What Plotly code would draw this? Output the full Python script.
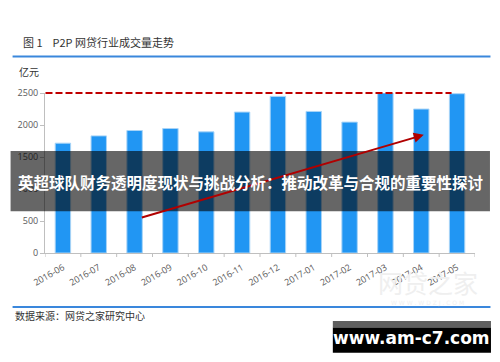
import plotly.graph_objects as go

categories = ["2016-06", "2016-07", "2016-08", "2016-09", "2016-10", "2016-11",
              "2016-12", "2017-01", "2017-02", "2017-03", "2017-04", "2017-05"]
volumes = [1716, 1830, 1914, 1945, 1893, 2202, 2447, 2212, 2045, 2500, 2249, 2489]
y_ticks = [0, 500, 1000, 1500, 2000, 2500]
ceiling_value = 2500
arrow_start = (2.16, 549)
arrow_end = (10.07, 1846)

W, H = 500, 362
L, R = 44.5, 475.5
T, B = 93.3, 252.7

def px(x):
    return (x - L) / (R - L)

def py(y):
    return (B - y) / (B - T)

fig = go.Figure()
fig.add_trace(go.Bar(
    x=list(range(len(categories))), y=volumes, width=0.43,
    marker=dict(color="#2196F3", line=dict(color="#a8d4f7", width=1)),
    cliponaxis=False, hoverinfo="skip"))

shapes = []
# category boundary ticks
for i in range(len(categories) + 1):
    shapes.append(dict(type="line", xref="x", yref="paper", x0=i - 0.5, x1=i - 0.5,
                       y0=0, y1=py(B + 4), line=dict(color="#bfbfbf", width=1)))
# ceiling dashed line (paper refs so it is not clipped at the top of the plot)
y_ceiling = py(B - ceiling_value * (B - T) / 2500)
shapes.append(dict(type="line", xref="paper", yref="paper", x0=px(45), x1=px(452),
                   y0=y_ceiling, y1=y_ceiling,
                   line=dict(color="#c00000", width=2, dash="7px,3px"), layer="above"))
# blue rules
for yy in (57, 306.5):
    shapes.append(dict(type="line", xref="paper", yref="paper",
                       x0=px(12), x1=px(491), y0=py(yy), y1=py(yy),
                       line=dict(color="#3a87dc", width=2)))
# overlay band
shapes.append(dict(type="rect", xref="paper", yref="paper",
                   x0=px(10), x1=px(490.5), y0=py(211), y1=py(151),
                   fillcolor="rgba(0,0,0,0.6)", line=dict(width=0), layer="above"))
# black badge
shapes.append(dict(type="rect", xref="paper", yref="paper",
                   x0=px(333), x1=px(491.5), y0=py(327), y1=py(320.5),
                   fillcolor="#5f5f5f", line=dict(width=0), layer="above"))
shapes.append(dict(type="rect", xref="paper", yref="paper",
                   x0=px(333), x1=px(491.5), y0=py(352), y1=py(327),
                   fillcolor="#000000", line=dict(width=0), layer="above"))

ann = []
ann.append(dict(x=arrow_end[0], y=arrow_end[1], ax=arrow_start[0], ay=arrow_start[1],
                xref="x", yref="y", axref="x", ayref="y", text="", showarrow=True,
                arrowhead=2, arrowsize=1, arrowwidth=2, arrowcolor="#b00000"))
ann.append(dict(x=px(20), y=py(42), xref="paper", yref="paper", xanchor="left", yanchor="middle",
                text="图 1 &nbsp;&nbsp;&nbsp;P2P 网贷行业成交量走势", showarrow=False,
                font=dict(size=11, color="#333333", family="Noto Sans CJK SC")))
ann.append(dict(x=px(16), y=py(72), xref="paper", yref="paper", xanchor="left", yanchor="middle",
                text="亿元", showarrow=False,
                font=dict(size=10, color="#333333", family="Noto Sans CJK SC")))
ann.append(dict(x=px(12), y=py(315), xref="paper", yref="paper", xanchor="left", yanchor="middle",
                text="数据来源：网贷之家研究中心", showarrow=False,
                font=dict(size=10, color="#333333", family="Noto Sans CJK SC")))
ann.append(dict(x=px(428), y=py(282), xref="paper", yref="paper", xanchor="center", yanchor="middle",
                text="网贷之家", showarrow=False,
                font=dict(size=25, color="#efefef", family="Noto Sans CJK SC")))
ann.append(dict(x=px(428), y=py(303), xref="paper", yref="paper", xanchor="center", yanchor="middle",
                text="W W W . W D Z J . C O M", showarrow=False,
                font=dict(size=6, color="#efefef", family="DejaVu Sans")))
ann.append(dict(x=px(250), y=py(182), xref="paper", yref="paper", xanchor="center", yanchor="middle",
                text="<b>英超球队财务透明度现状与挑战分析：推动改革与合规的重要性探讨</b>", showarrow=False,
                font=dict(size=15.5, color="#ffffff", family="Noto Sans CJK SC")))
ann.append(dict(x=px(412), y=py(337), xref="paper", yref="paper", xanchor="center", yanchor="middle",
                text="<b>www.am-c7.com</b>", showarrow=False,
                font=dict(size=17, color="#ffffff", family="DejaVu Sans")))

fig.update_layout(
    width=W, height=H, margin=dict(l=L, r=W - R, t=T, b=H - B),
    paper_bgcolor="white", plot_bgcolor="white", showlegend=False,
    shapes=shapes, annotations=ann,
    xaxis=dict(range=[-0.5, len(categories) - 0.5], tickmode="array",
               tickvals=list(range(len(categories))), ticktext=categories,
               tickangle=-30, showgrid=False, zeroline=False, showline=True,
               linecolor="#bfbfbf", linewidth=1, ticks="", ticklabelstandoff=5,
               tickfont=dict(size=9, color="#595959", family="Open Sans")),
    yaxis=dict(range=[0, 2500], tickvals=y_ticks, showgrid=False, zeroline=False,
               showline=True, linecolor="#bfbfbf", linewidth=1, ticks="outside",
               ticklen=4, tickcolor="#bfbfbf",
               tickfont=dict(size=9, color="#595959", family="Open Sans")),
)
fig.write_html("out.html", config={"displayModeBar": False},
               post_script="document.body.style.margin='0';document.body.style.overflow='hidden';")
